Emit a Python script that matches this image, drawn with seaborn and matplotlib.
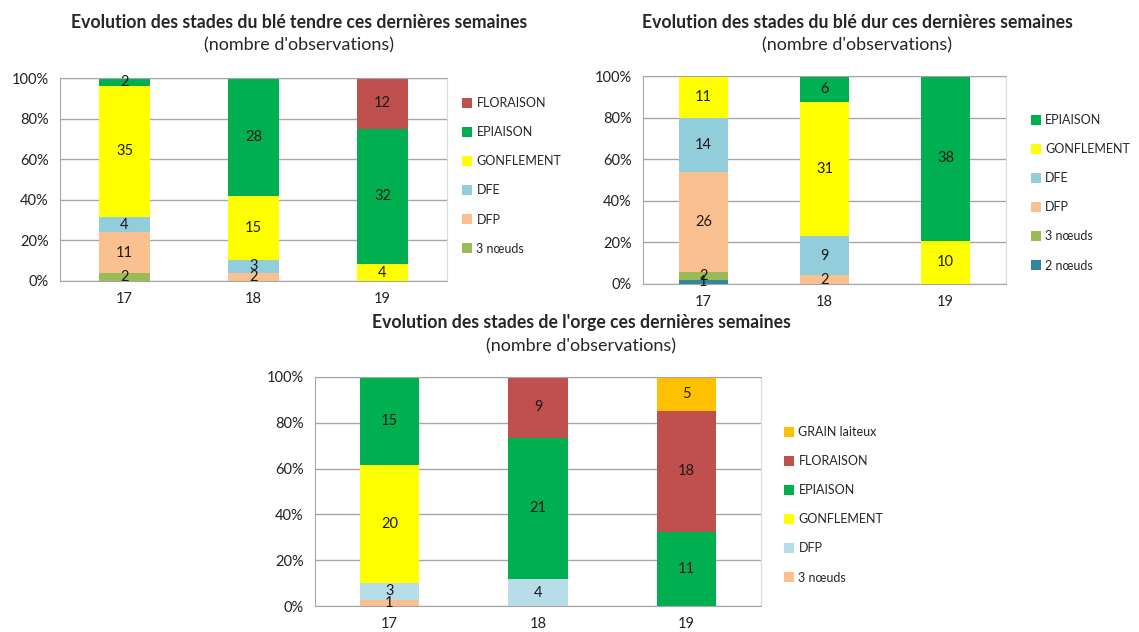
import matplotlib.pyplot as plt
import pandas as pd
import seaborn as sns
from matplotlib.lines import Line2D
from matplotlib.ticker import FixedLocator, PercentFormatter

semaines = [17, 18, 19]

# Blé tendre : stades du haut vers le bas de la pile
tendre_stades = ["FLORAISON", "EPIAISON", "GONFLEMENT", "DFE", "DFP", "3 nœuds"]
tendre_obs = [
    [0, 0, 12],
    [2, 28, 32],
    [35, 15, 4],
    [4, 3, 0],
    [11, 2, 0],
    [2, 0, 0],
]

# Blé dur
dur_stades = ["EPIAISON", "GONFLEMENT", "DFE", "DFP", "3 nœuds", "2 nœuds"]
dur_obs = [
    [0, 6, 38],
    [11, 31, 10],
    [14, 9, 0],
    [26, 2, 0],
    [2, 0, 0],
    [1, 0, 0],
]

# Orge
orge_stades = ["GRAIN laiteux", "FLORAISON", "EPIAISON", "GONFLEMENT", "DFP", "3 nœuds"]
orge_obs = [
    [0, 0, 5],
    [0, 9, 18],
    [15, 21, 11],
    [20, 0, 0],
    [3, 4, 0],
    [1, 0, 0],
]

couleurs_ble = {
    "FLORAISON": "#C0504D",
    "EPIAISON": "#00B050",
    "GONFLEMENT": "#FFFF00",
    "DFE": "#92CDDC",
    "DFP": "#FAC090",
    "3 nœuds": "#9BBB59",
    "2 nœuds": "#31859C",
}
couleurs_orge = {
    "GRAIN laiteux": "#FFC000",
    "FLORAISON": "#C0504D",
    "EPIAISON": "#00B050",
    "GONFLEMENT": "#FFFF00",
    "DFP": "#B7DEE8",
    "3 nœuds": "#FAC090",
}

sns.set_style("white")
plt.rcParams["font.family"] = ["Lato", "DejaVu Sans"]

W, H = 1139, 632
GRIS = "#A6A6A6"


def plot_panel(fig, rect, stades, obs, couleurs, titre, titre_x, titre_y, leg_xy):
    ax = fig.add_axes(rect)
    df = pd.DataFrame(
        [(s, stade, obs[i][j]) for i, stade in enumerate(stades) for j, s in enumerate(semaines)],
        columns=["semaine", "stade", "n"],
    )
    sns.histplot(
        data=df, x="semaine", weights="n", hue="stade", hue_order=stades,
        multiple="fill", discrete=True, shrink=0.4, palette=couleurs,
        alpha=1, linewidth=0, legend=False, ax=ax,
    )

    # étiquettes au centre de chaque segment
    for j, s in enumerate(semaines):
        total = sum(row[j] for row in obs)
        cum = 0
        for i in reversed(range(len(stades))):
            n = obs[i][j]
            if n > 0:
                ax.text(s, (cum + n / 2) / total, str(n), ha="center", va="center",
                        fontsize=10.5, color="#1a1a1a")
            cum += n

    ax.set_xlim(16.5, 19.5)
    ax.set_ylim(0, 1)
    ax.set_xticks(semaines)
    ax.xaxis.set_minor_locator(FixedLocator([16.5, 17.5, 18.5, 19.5]))
    ax.set_yticks([0, 0.2, 0.4, 0.6, 0.8, 1.0])
    ax.yaxis.set_major_formatter(PercentFormatter(1, decimals=0))
    ax.tick_params(axis="x", which="major", length=0, labelsize=10.5, pad=8, colors="#222222")
    ax.tick_params(axis="x", which="minor", length=5, width=1, color=GRIS)
    ax.tick_params(axis="y", length=5, width=1, color=GRIS, labelsize=10.5, pad=3,
                   labelcolor="#222222")
    ax.grid(axis="y", color=GRIS, linewidth=1)
    ax.set_axisbelow(True)
    for side in ["left", "bottom", "top"]:
        ax.spines[side].set_color(GRIS)
    ax.spines["right"].set_color("#D9D9D9")
    ax.set_xlabel("")
    ax.set_ylabel("")

    fig.text(titre_x / W, 1 - titre_y / H, titre, ha="center", va="center",
             fontsize=12.7, fontweight="bold")
    fig.text(titre_x / W, 1 - (titre_y + 23) / H, "(nombre d'observations)", ha="center",
             va="center", fontsize=13)

    handles = [Line2D([], [], marker="s", linestyle="", markersize=7.5,
                      markerfacecolor=couleurs[st], markeredgewidth=0) for st in stades]
    fig.legend(handles, stades, loc="upper left",
               bbox_to_anchor=(leg_xy[0] / W, 1 - leg_xy[1] / H),
               frameon=False, fontsize=9, labelspacing=1.37, handlelength=0.8,
               handletextpad=0.35, borderpad=0, borderaxespad=0)
    return ax


fig = plt.figure(figsize=(W / 100, H / 100), dpi=100)

plot_panel(fig, [60 / W, 1 - 281 / H, 387 / W, 203 / H], tendre_stades, tendre_obs,
           couleurs_ble, "Evolution des stades du blé tendre ces dernières semaines",
           299, 22, (462, 97))
plot_panel(fig, [643 / W, 1 - 284 / H, 363 / W, 208 / H], dur_stades, dur_obs,
           couleurs_ble, "Evolution des stades du blé dur ces dernières semaines",
           857, 22, (1031, 114))
plot_panel(fig, [315 / W, 1 - 606 / H, 446 / W, 229 / H], orge_stades, orge_obs,
           couleurs_orge, "Evolution des stades de l'orge ces dernières semaines",
           581, 323, (784, 426))

fig.savefig("out.png", dpi=100, facecolor="white")
